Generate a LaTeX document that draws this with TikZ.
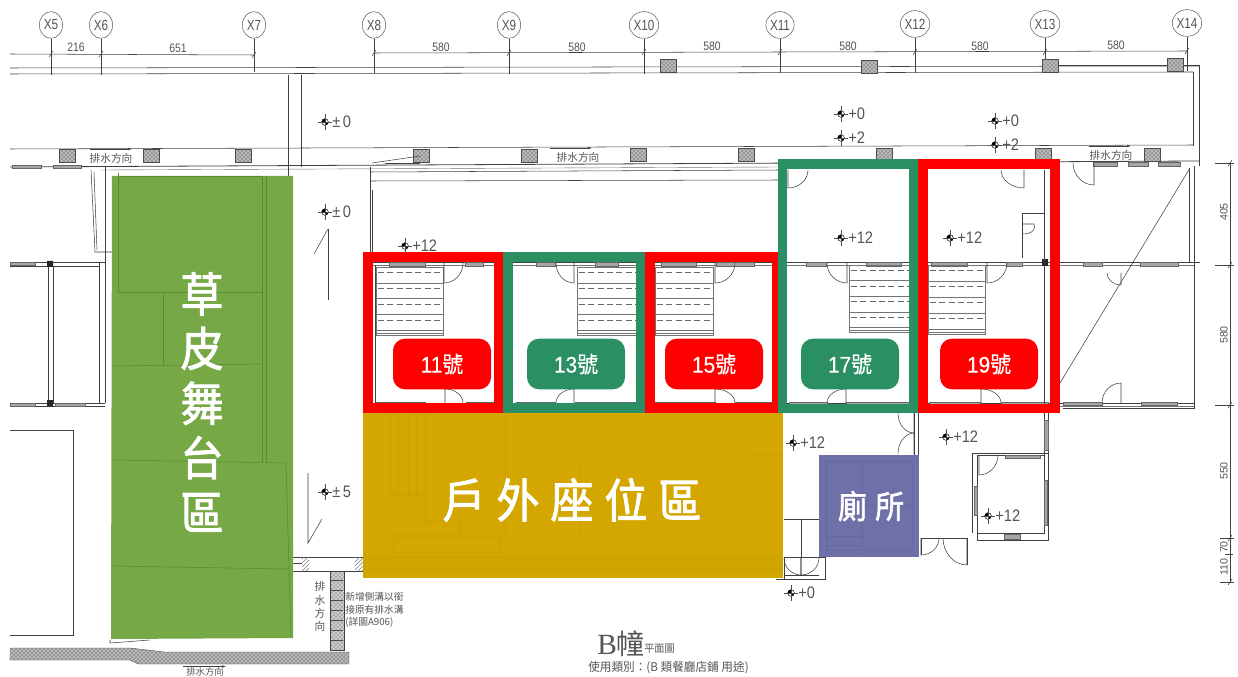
\documentclass[tikz,border=0pt]{standalone}
\usepackage{fontspec}
\usepackage{graphicx}
\setmainfont{Liberation Sans}
\newfontfamily\cjk{Noto Sans CJK TC}
\newfontfamily\cjkfat[FakeBold=2]{Noto Sans CJK TC}
\newfontfamily\cjkmid[FakeBold=0.5]{Noto Sans CJK TC}
\newfontfamily\latmid[FakeBold=0.3]{Liberation Sans}
\newfontfamily\serifb{Liberation Serif}
\usetikzlibrary{shapes.geometric,patterns,calc,arrows.meta}
\definecolor{redc}{HTML}{FF0000}
\definecolor{greenc}{HTML}{2A8F63}
\definecolor{grassc}{HTML}{76A846}
\definecolor{grassl}{HTML}{558F32}
\definecolor{goldc}{HTML}{D4A600}
\definecolor{goldl}{HTML}{CAA004}
\definecolor{purpc}{HTML}{6F70A8}
\definecolor{purpl}{HTML}{66679E}
\definecolor{inkc}{HTML}{555555}
\tikzset{
 wall/.style={draw=black!75,line width=.4pt},
 thinw/.style={draw=black!55,line width=.3pt},
 bubble/.style={ellipse,draw=black!70,line width=.35pt,inner sep=0pt,minimum width=17.5pt,minimum height=20pt,text=inkc,font=\fontsize{11}{12}\selectfont},
 dimtxt/.style={text=inkc,inner sep=0pt,font=\fontsize{9.2}{10}\selectfont},
 levtxt/.style={text=inkc,inner sep=0pt,anchor=west,font=\fontsize{12.5}{13}\selectfont},
 levmark/.style={circle,draw=black,fill=black,line width=.3pt,inner sep=0pt,minimum size=5pt,
   path picture={\fill[white] (path picture bounding box.center) rectangle (path picture bounding box.north east);
                 \fill[white] (path picture bounding box.center) rectangle (path picture bounding box.south west);}},
 drain/.style={draw=black!70,line width=.3pt,preaction={fill=black!28},pattern=crosshatch dots,pattern color=black!80},
 winmark/.style={draw=black!60,fill=black!35,line width=.25pt},
 frame/.style={draw,line width=7pt,miter limit=10},
 tag/.style={rounded corners=9pt,minimum width=73.5pt,minimum height=38pt,inner sep=0pt,text=white,font=\latmid\fontsize{17}{18}\selectfont},
 note/.style={text=inkc,inner sep=0pt,font=\cjk\fontsize{7.3}{9.6}\selectfont,align=left},
 big/.style={text=white,inner sep=0pt,font=\cjkfat\fontsize{35}{41}\selectfont,align=center},
}
\newcommand\door[4]{\draw[wall] (#1,#4) -- (#1,#2) .. controls ($(#1,#2)!.55!(#3,#2)$) and ($(#3,#4)!.55!(#3,#2)$) .. (#3,#4);}
\newcommand\stairs[4]{%
 \draw[thinw,line width=.45pt] (#1,#2) rectangle (#3,#4);
 \foreach \t in {0,1,2,3}{
  \pgfmathsetmacro\ya{#2+(\t+.35)*(#4-#2)/4.3}
  \pgfmathsetmacro\yb{#2+(\t+1)*(#4-#2)/4.3}
  \draw[draw=black!60,dash pattern=on 4.5pt off 2.5pt,line width=.4pt] (#1+2,\ya) -- (#3-2,\ya);
  \draw[thinw,line width=.35pt] (#1,\yb) -- (#3,\yb);
 }
 \draw[thinw] (#1,#4-2) -- (#3,#4-2);
}
\newcommand\lev[4]{%
 \node[levmark] (#1) at (#2,#3) {};
 \coordinate (#1w) at (#2-7,#3); \coordinate (#1e) at (#2+7,#3);
 \coordinate (#1n) at (#2,#3-8); \coordinate (#1s) at (#2,#3+8);
 \draw[black!70,line width=.3pt] (#1w) -- (#1e) (#1n) -- (#1s);
 \node[levtxt] at (#2+7,#3) {\scalebox{.88}[1]{#4}};
}
\begin{document}
\begin{tikzpicture}[x=.75pt,y=-.75pt]
\useasboundingbox (0,0) rectangle (1238,677);
\fill[white] (0,0) rectangle (1238,677);

% ---- grid bubbles and stems
\foreach \n/\x/\y/\e in {X5/51/25/75,X6/101/25/75,X7/254/25/72,X8/374/25/73,X9/509/25/74,X10/644/25/74,X11/780/25/73,X12/915/24/73,X13/1045/24/72,X14/1187/23/71}{
 \node[bubble] (\n) at (\x,\y) {\scalebox{.8}[1]{\n}};
 \coordinate (\n b) at (\x,\e);
 \draw[wall] (\n) -- (\n b);
}
% dimension lines
\draw[wall] (10,54) -- (254,55);
\draw[wall] (374,53) -- (1187,51);
\foreach \x/\y in {51/54,101/54,254/55,374/53,509/53,644/52,780/52,915/52,1045/52,1187/51}{
 \draw[wall] (\x-2,\y+3) -- (\x+2,\y-3);
}
\foreach \x/\y/\t in {76/47/216,178/48/651,441/47/580,577/47/580,712/46/580,848/46/580,980/46/580,1116/45/580}{
 \node[dimtxt] at (\x,\y) {\scalebox{.85}[1]{\t}};
}
% main horizontals
\draw[wall] (10,68) -- (1199,66);
\draw[wall] (10,74) -- (1193,72);
\draw[wall] (1045,65) -- (1199,65) -- (1199,166);
\draw[wall] (1193,72) -- (1193,146);
\draw[wall] (10,149) -- (1193,145);
\draw[wall,line width=.6pt] (10,167) -- (1199,161);
\draw[thinw] (100,170) -- (780,167);
\draw[wall] (370,172) -- (780,170);
\draw[wall] (370,181) -- (780,180);
\draw[wall] (288,75) -- (288,176);
\draw[wall] (301,75) -- (301,167);
\draw[wall] (370,167) -- (370,253);
\draw[wall] (372,190) -- (372,253);
% drains (upper row and lower row)
\foreach \x/\y in {668/66,869/67,1050/66,1175/65,67/156,151/156,243/156,421/156,529/156,638/155,746/155,884/155,1043/155,1152/155}{
 \path[drain] (\x-8,\y-6.5) rectangle (\x+8,\y+6.5);
}
% drain-direction labels with arrows
\foreach \a/\x/\y/\l/\r in {da/111/158/90/132,db/578/157/550/592,dc/1111/155/1089/1131}{
 \node[note,font=\cjk\fontsize{8}{9}\selectfont] (\a) at (\x,\y) {排水方向};
 \coordinate (\a l) at (\l,\y-9); \coordinate (\a r) at (\r,\y-9);
 \draw[wall,-{Latex[length=3pt,width=2pt]}] (\a l) -- (\a r);
}
\draw[wall] (372,163) -- (420,156);
\draw[wall] (385,163) -- (420,163);

% left rooms
\draw[wall] (91,170) -- (95,252) -- (112,252);
\draw[wall] (94,172) -- (97,250);
\draw[wall] (105,166) -- (105,403);
\draw[wall] (99,262) -- (99,403);
\draw[wall] (10,262) -- (105,262);
\draw[wall] (10,266) -- (99,266);
\draw[wall] (48,266) -- (48,403);
\draw[wall] (53,266) -- (53,403);
\draw[wall] (10,403) -- (105,403);
\draw[wall] (10,406) -- (105,406);
\draw[wall] (10,430) -- (73,430) -- (73,635) -- (10,635);
\foreach \a/\b/\y in {12/41/165,53/81/165,10/35/262,10/35/403,55/85/403}{
 \path[winmark] (\a,\y) rectangle (\b,\y+3.5);
}
\fill[black!85] (47,261) rectangle (53,267) (47,400) rectangle (53,406);

% centre-left details
\draw[wall] (328,229) -- (314,254);
\draw[wall] (328,229) -- (328,300);
\draw[wall] (308,473) -- (308,543) -- (322,519);
\draw[wall] (110,640) -- (110,643) -- (150,640);

% --- upper wall of shops and bottom wall
\draw[wall] (370,262) -- (1200,262);
\draw[thinw] (370,265) -- (1194,265);
\draw[wall] (375,403) -- (1194,403);
\draw[thinw] (375,406) -- (1194,406);
\foreach \a/\b in {389/425,465/483,536/555,595/618,661/696,716/754,806/826,866/901,931/967,1006/1022,1083/1102,1140/1178}{
 \path[winmark] (\a,262) rectangle (\b,266);
}
\foreach \a/\b in {376/425,466/498,516/555,575/640,655/715,735/773,789/827,846/909,929/980,1001/1048,1063/1102,1141/1177}{
 \path[winmark] (\a,402) rectangle (\b,405);
}
\foreach \a/\b in {1093/1117,1128/1148,1158/1180}{
 \path[winmark] (\a,162.5) rectangle (\b,166);
}
\fill[black!85] (1042,259) rectangle (1048,266);
\draw[wall] (375,265) -- (375,403);
\draw[wall] (1044,170) -- (1044,413);
\draw[wall] (1022,258) -- (1022,213) -- (1044,213);
\draw[wall] (1022,234) .. controls (1034,234) and (1036,228) .. (1034,224) -- (1022,224);
\draw[wall] (1189,168) -- (1189,262);
\draw[wall] (1194,166) -- (1194,408) -- (1063,408);
\draw[wall] (1190,168) -- (1060,383);

% stairs
\stairs{376}{267}{443}{335}
\stairs{577}{267}{645}{335}
\stairs{655}{267}{713}{335}
\stairs{849}{265}{912}{332}
\stairs{928}{265}{985}{334}

% doors
\door{444}{283}{463}{263}
\door{574}{283}{556}{263}
\door{715}{283}{735}{263}
\door{847}{283}{827}{263}
\door{987}{283}{1007}{263}
\door{788}{188}{808}{170}
\door{1024}{188}{1001}{170}
\door{1094}{185}{1073}{163}
\door{1121}{285}{1107}{273}
\door{445}{389}{463}{403}
\door{574}{389}{556}{403}
\door{715}{389}{735}{403}
\door{846}{389}{827}{403}
\door{981}{389}{1001}{403}
\door{1121}{383}{1102}{403}

% lower right block
\draw[wall] (914,413) -- (914,455);
\draw[wall] (918,413) -- (918,455);
\door{914}{433}{898}{413}
\door{914}{433}{898}{454}
\draw[wall] (1044,413) -- (1044,455);
\draw[wall] (1048,413) -- (1048,540) -- (977,540) -- (977,455) -- (1044,455);
\draw[wall] (972,453) -- (1048,453);
\draw[wall] (972,453) -- (972,533);
\draw[wall] (977,533) -- (1044,533) -- (1044,455);
\door{979}{475}{998}{455}
\path[winmark] (1004,534) rectangle (1020,539);
\path[winmark] (1005,455) rectangle (1040,458);
\path[winmark] (974,486) rectangle (977,515);
\path[winmark] (1044,480) rectangle (1047,525);
\path[winmark] (1044,420) rectangle (1048,450);
\draw[wall] (921,555) -- (921,538) -- (967,538) -- (967,565);
\door{921}{555}{939}{538}
\door{967}{565}{943}{538}
% entry
\draw[wall] (784,519) -- (819,519);
\draw[wall] (801,519) -- (801,557);
\draw[wall] (784,557) -- (825,557) -- (825,579) -- (776,579);
\draw[wall] (784,575) -- (819,575);
\draw[wall] (784,557) -- (784,579);
\door{801}{575}{784}{558}
\door{801}{575}{819}{558}

% bottom: wall with hatch, side channel, bottom channel
\draw[wall] (290,557) rectangle (363,571);
\draw[wall] (290,563) -- (302,563);
\path[pattern=north east lines,pattern color=black!50] (302,557) rectangle (309,571) (355,557) rectangle (363,571);
\draw[wall,preaction={fill=black!20},pattern=crosshatch dots,pattern color=black!70] (330,571) rectangle (344,650);
\foreach \y in {580,590,600,610,620,630,640}{\draw[black!70,line width=.35pt] (331,\y) -- (343,\y);}
\path[drain]
  (10,648) -- (130,648) -- (164,652) -- (349,652) -- (349,664) -- (138,664) -- (130,660) -- (10,660) -- cycle;

% grass stage
\fill[grassc] (112,176) -- (293,176) -- (293,638) -- (111,639) -- cycle;
\draw[grassl,line width=.45pt] (118,173) -- (118,292) -- (262,292);
\draw[grassl,line width=.45pt] (118,176) -- (262,176);
\draw[grassl,line width=.45pt] (262,176) -- (262,463);
\draw[grassl,line width=.45pt] (163,292) -- (163,366);
\draw[grassl,line width=.45pt] (113,366) -- (261,364);
\draw[grassl,line width=.45pt] (266,176) -- (266,463);
\draw[grassl,line width=.45pt] (113,460) -- (286,463);
\draw[grassl,line width=.45pt] (112,566) -- (288,569);
\draw[grassl,line width=.45pt] (286,463) -- (291,637);

% gold outdoor seating area
\fill[goldc] (363,412) rectangle (783,578);
\begin{scope}[goldl,line width=.4pt]
 \draw (390,412) -- (390,495) (398,412) -- (398,495) (408,412) -- (408,495) (416,412) -- (416,495) (425,412) -- (425,495);
 \draw (390,495) -- (425,495) -- (425,525) (390,535) -- (460,535) -- (460,520) -- (425,520);
 \draw (393,537) rectangle (500,552);
 \draw (363,557) -- (783,557) (363,571) -- (783,571);
 \draw (505,412) -- (505,540) (580,465) -- (580,540) (725,462) -- (725,535);
 \draw (783,412) .. controls (760,425) and (750,440) .. (748,455) -- (783,455);
 \path[pattern=north east lines,pattern color=goldl] (363,557) rectangle (783,571);
\end{scope}

% purple toilet
\fill[purpc] (819,455) rectangle (919,557);
\begin{scope}[purpl,line width=.4pt]
 \draw (826,461) -- (912,461) -- (912,550) -- (826,550) -- cycle;
 \draw (862,461) -- (862,555) (826,536) -- (862,536) (826,545) -- (862,545);
 \draw (862,505) -- (912,505);
\end{scope}

% frames
\draw[frame,redc] (368,257) rectangle (499,408);
\draw[frame,greenc] (508,257) rectangle (641,408);
\draw[frame,redc] (650,257) rectangle (777,408);
\draw[frame,greenc] (782.5,164) rectangle (913.5,408.5);
\draw[frame,redc] (923,164) rectangle (1055,408.5);

% tags
\node[tag,fill=redc] (t11) at (442,364) {\scalebox{.92}[1]{11{\cjkmid 號}}};
\node[tag,fill=greenc] (t13) at (576,364) {\scalebox{.92}[1]{13{\cjkmid 號}}};
\node[tag,fill=redc] (t15) at (714,364) {\scalebox{.92}[1]{15{\cjkmid 號}}};
\node[tag,fill=greenc] (t17) at (850,364) {\scalebox{.92}[1]{17{\cjkmid 號}}};
\node[tag,fill=redc] (t19) at (989,364) {\scalebox{.92}[1]{19{\cjkmid 號}}};

% big labels
\node[big] (grass) at (202,402) {\scalebox{.92}[1]{草}\\\scalebox{.92}[1]{皮}\\\scalebox{.92}[1]{舞}\\\scalebox{.92}[1]{台}\\\scalebox{.92}[1]{區}};
\node[big] (seat) at (572,500) {\scalebox{.92}[1]{戶\hspace{9pt}外\hspace{9pt}座\hspace{9pt}位\hspace{9pt}區}};
\node[big,font=\cjkfat\fontsize{24}{26}\selectfont] (wc) at (871,506) {\scalebox{.9}[1]{廁\hspace{7pt}所}};

% levels
\lev{la}{325}{122}{±\,0}
\lev{lb}{325}{212}{±\,0}
\lev{lc}{405}{246}{+12}
\lev{ld}{325}{492}{±\,5}
\lev{le}{841}{114}{+0}
\lev{lf}{841}{138}{+2}
\lev{lg}{995}{121}{+0}
\lev{lh}{995}{145}{+2}
\lev{li}{841}{238}{+12}
\lev{lj}{950}{238}{+12}
\lev{lk}{793}{443}{+12}
\lev{ll}{946}{437}{+12}
\lev{lm}{988}{516}{+12}
\lev{ln}{791}{593}{+0}

% notes
\node[note,align=center,font=\cjk\fontsize{8}{9.8}\selectfont] (vd) at (320,606.5) {排\\水\\方\\向};
\node[note,anchor=west] (nt) at (345,610) {新增側溝以銜\\接原有排水溝\\(詳圖A906)};
\node[note,font=\cjk\fontsize{7}{8}\selectfont] (bd) at (205,671.5) {排水方向};
\coordinate (bdl) at (183,666.5); \coordinate (bdr) at (226,666.5);
\draw[wall,-{Latex[length=3pt,width=2pt]}] (bdl) -- (bdr);

% title
\node[inner sep=0pt,text=inkc,anchor=west] (tb) at (597,644) {{\serifb\fontsize{22}{24}\selectfont B}{\cjk\fontsize{21}{24}\selectfont 幢}};
\node[note,anchor=west,font=\cjk\fontsize{8}{9}\selectfont] (tp) at (644,649) {\scalebox{.95}[1]{平面圖}};
\node[note,anchor=west,font=\cjk\fontsize{9}{10}\selectfont] (tu) at (588,668) {\scalebox{.97}[1]{使用類別：(B 類餐廳店鋪 用途)}};

% right dimension chain
\coordinate (ra) at (1230,163); \coordinate (rb) at (1230,582);
\draw[wall] (ra) -- (rb);
\foreach \y/\l in {163/1215,265/1215,405/1215,538/1220,582/1220}{
 \draw[wall] (\l,\y) -- (1234,\y);
 \draw[wall] (1228,\y+3) -- (1232,\y-3);
}
\draw[wall] (1225,554) -- (1233,554);
\foreach \y/\t in {212/405,335/580,471/550,547/70,567/110}{
 \node[dimtxt,rotate=90,font=\fontsize{8}{9}\selectfont] at (1224,\y) {\t};
}
\end{tikzpicture}
\end{document}
